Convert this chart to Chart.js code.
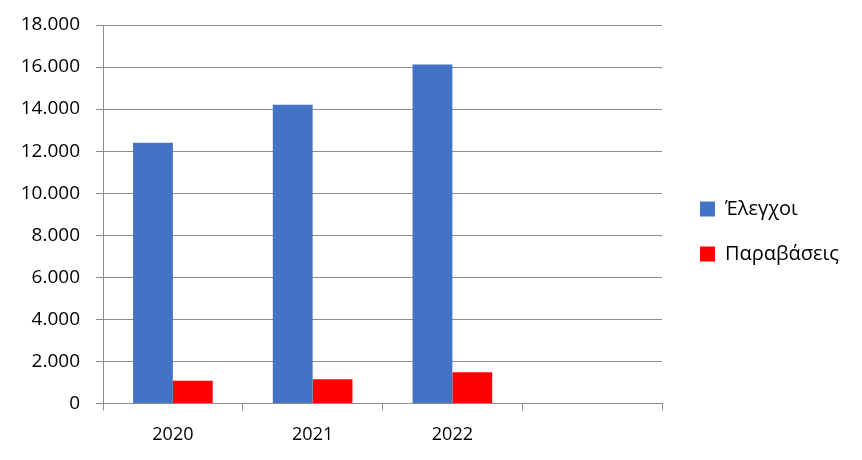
<!DOCTYPE html>
<html>
<head>
<meta charset="utf-8">
<script src="https://cdn.jsdelivr.net/npm/chart.js@4"></script>
<style>
  html, body { margin: 0; padding: 0; background: #fff; }
  #wrap { width: 862px; height: 460px; }
</style>
</head>
<body>
<div id="wrap"><canvas id="myChart"></canvas></div>
<script>
/* Data */
const years = ['2020', '2021', '2022', ''];
const checks = [12400, 14210, 16120, null];
const violations = [1080, 1150, 1480, null];
const yTicks = [0, 2000, 4000, 6000, 8000, 10000, 12000, 14000, 16000, 18000];

const gridColor = '#8c8c8c';
const font = { family: '"Open Sans", "Noto Sans", sans-serif', size: 18 };

function formatNum(v) {
  return v.toLocaleString('el-GR').replace(/,/g, '.');
}

// move legend a bit up, like the original
const legendNudge = {
  id: 'legendNudge',
  afterLayout: function(chart) {
    chart.legend.top -= 11;
    chart.legend.bottom -= 11;
  }
};

let ctx = document.getElementById('myChart').getContext('2d');
// eslint-disable-next-line
let chart = new Chart(ctx, {
  type: 'bar',
  data: {
    labels: years,
    datasets: [{
      label: 'Έλεγχοι',
      backgroundColor: '#4472C4',
      data: checks,
    },
    {
      label: 'Παραβάσεις',
      backgroundColor: '#FF0000',
      data: violations,
    }]
  },
  plugins: [legendNudge],
  options: {
    responsive: true,
    maintainAspectRatio: false,
    animation: false,
    datasets: {
      bar: {
        barPercentage: 1,
        categoryPercentage: 0.57,
      }
    },
    layout: {
      padding: { left: 0, right: 13, top: 25, bottom: 0 }
    },
    scales: {
      x: {
        grid: {
          offset: true,
          drawOnChartArea: false,
          drawTicks: true,
          tickLength: 7,
          color: gridColor,
        },
        border: { display: true, color: gridColor },
        ticks: { color: '#000', font: font, padding: 14 },
      },
      y: {
        min: 0,
        max: 18000,
        afterBuildTicks: function(scale) {
          scale.ticks = yTicks.map(function(v) { return { value: v }; });
        },
        afterFit: function(scale) {
          scale.width = 103;
          scale.paddingTop = 0;
        },
        grid: { color: gridColor, tickLength: 7 },
        border: { display: true, color: gridColor },
        ticks: {
          color: '#000',
          font: { family: font.family, size: 19, lineHeight: 1 },
          padding: 16,
          callback: function(v) { return formatNum(v); }
        },
      },
      gap: {
        type: 'linear',
        position: 'right',
        display: true,
        grid: { display: false },
        border: { display: false },
        ticks: { display: false },
        afterFit: function(scale) {
          scale.width = 13;
          scale.paddingTop = 0;
          scale.paddingBottom = 0;
        },
      }
    },
    plugins: {
      tooltip: { enabled: false },
      legend: {
        position: 'right',
        maxWidth: 300,
        labels: {
          color: '#000',
          font: { family: font.family, size: 20 },
          boxWidth: 15,
          boxHeight: 15,
          padding: 25,
        }
      }
    }
  }
});
</script>
</body>
</html>
